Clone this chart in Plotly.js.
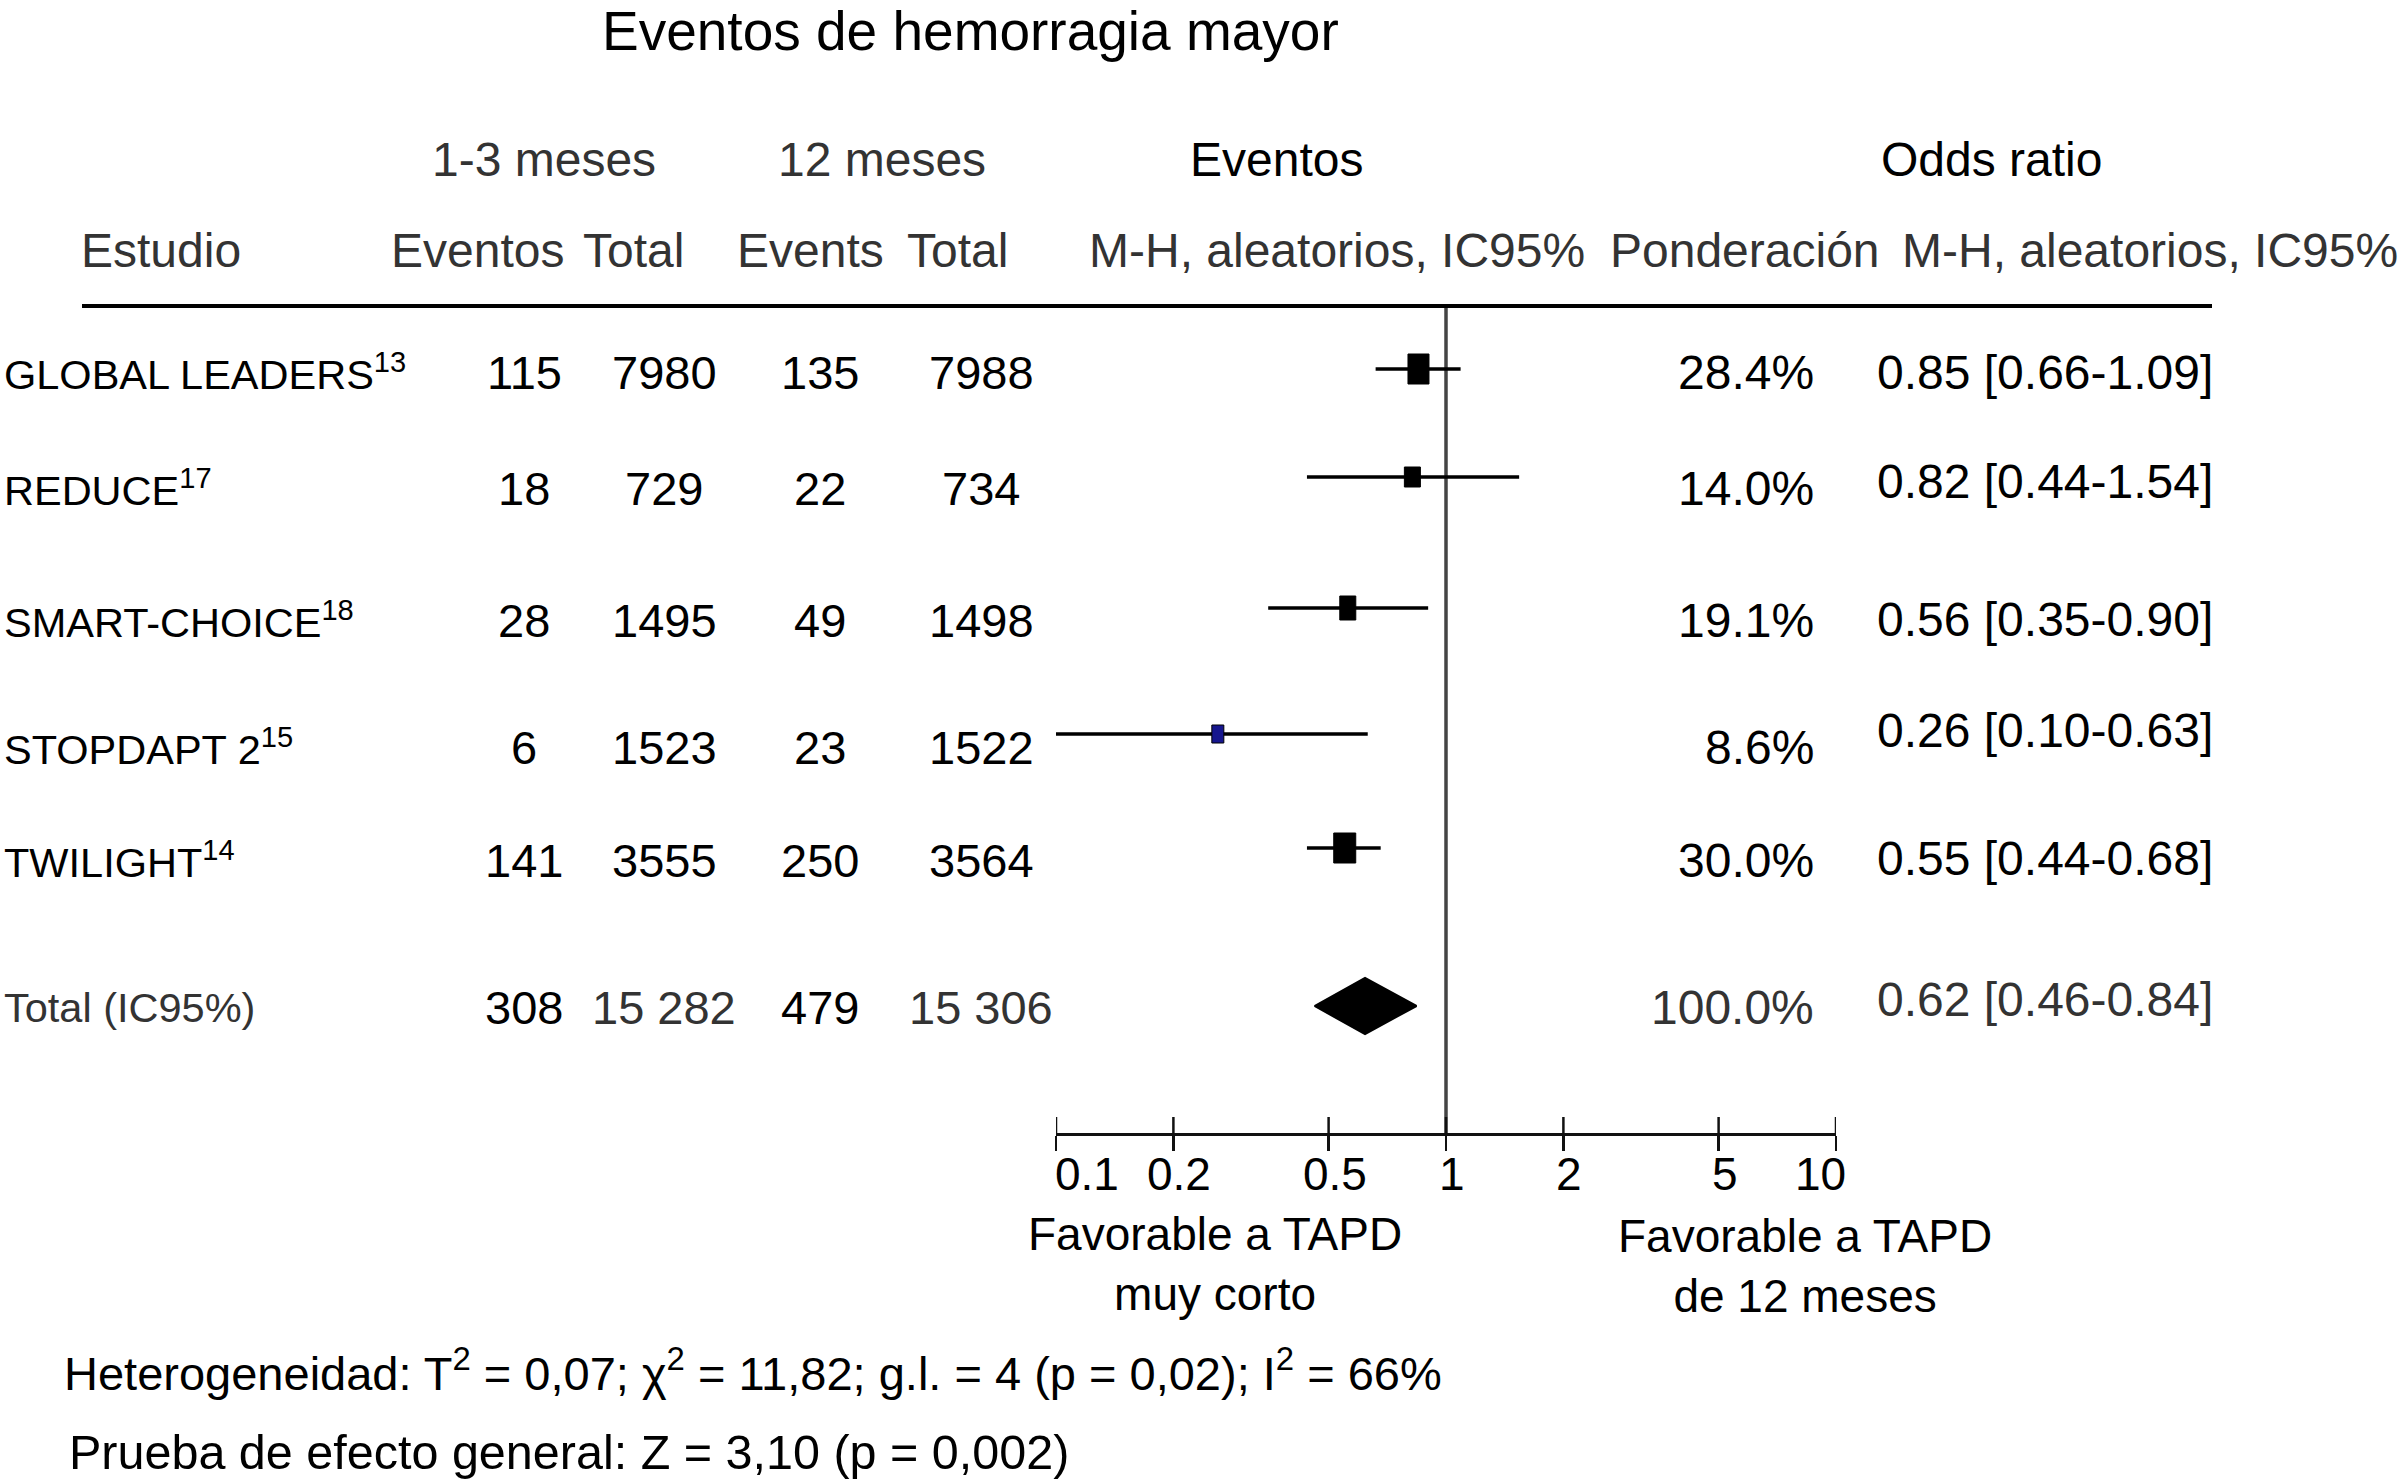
<!DOCTYPE html>
<html>
<head>
<meta charset="utf-8">
<script src="https://cdn.plot.ly/plotly-3.0.1.min.js"></script>
<style>
html,body{margin:0;padding:0;background:#fff;overflow:hidden}
#chart{width:2402px;height:1481px}
</style>
</head>
<body>
<div id="chart"></div>
<script>
// ---------------- DATA ----------------
const studies = ['GLOBAL LEADERS', 'REDUCE', 'SMART-CHOICE', 'STOPDAPT 2', 'TWILIGHT'];
const refs = ['13', '17', '18', '15', '14'];
const shortEvents = [115, 18, 28, 6, 141];
const shortTotal = [7980, 729, 1495, 1523, 3555];
const longEvents = [135, 22, 49, 23, 250];
const longTotal = [7988, 734, 1498, 1522, 3564];
const weights = [28.4, 14.0, 19.1, 8.6, 30.0];
const oddsRatio = [0.85, 0.82, 0.56, 0.26, 0.55];
const ciLow = [0.66, 0.44, 0.35, 0.10, 0.44];
const ciHigh = [1.09, 1.54, 0.90, 0.63, 0.68];

const totalLabel = 'Total (IC95%)';
const totalShortEvents = 308;
const totalShortN = 15282;
const totalLongEvents = 479;
const totalLongN = 15306;
const totalWeight = 100.0;
const totalOR = 0.62;
const totalLow = 0.46;
const totalHigh = 0.84;

const tickVals = [0.1, 0.2, 0.5, 1, 2, 5, 10];
const tickLabels = ['0.1', '0.2', '0.5', '1', '2', '5', '10'];

const titleText = 'Eventos de hemorragia mayor';
const heteroText = 'Heterogeneidad: T<sup>2</sup> = 0,07; χ<sup>2</sup> = 11,82; g.l. = 4 (p = 0,02); I<sup>2</sup> = 66%';
const overallText = 'Prueba de efecto general: Z = 3,10 (p = 0,002)';
const favLeft = 'Favorable a TAPD<br>muy corto';
const favRight = 'Favorable a TAPD<br>de 12 meses';

// ---------------- LAYOUT / STYLE ----------------
const W = 2402, H = 1481;
const FONT = '"Liberation Sans", Arial, Helvetica, sans-serif';
const GRAY = '#333333';
const textY = [372, 488, 620, 747, 860, 1007];
const orY = [372, 481, 619, 730, 858, 999];
const markY = [369, 477, 608, 734, 848, 1006];
const boxW = [21, 16, 16, 12, 22];
const boxH = [30, 20, 24, 18, 30];
const boxFill = ['#000', '#000', '#000', '#16168e', '#000'];
const colX = {label: 2, c1: 524, c2: 664, c3: 820, c4: 981, pct: 1816, or: 1875};
const axisY = 1134, headerLineY = 306;
const axisLeftPx = 1056, axisRightPx = 1836;
const pxPerDecade = (axisRightPx - axisLeftPx) / 2;

function fmtN(n) {
  const s = String(n);
  return n >= 10000 ? s.replace(/\B(?=(\d{3})+(?!\d))/g, ' ') : s;
}
function fmtOR(o, l, h) { return o.toFixed(2) + ' [' + l.toFixed(2) + '-' + h.toFixed(2) + ']'; }

const annotations = [];
function ann(text, xpx, ypx, anchor, size, color) {
  annotations.push({
    xref: 'paper', yref: 'y', x: xpx / W, y: ypx, xanchor: anchor, yanchor: 'middle',
    text: text, showarrow: false, font: {family: FONT, size: size, color: color || '#000'}
  });
}

// Title and headers
ann(titleText, 970, 31, 'center', 55, '#000');
ann('1-3 meses', 544, 159, 'center', 48, GRAY);
ann('12 meses', 882, 159, 'center', 48, GRAY);
ann('Eventos', 1276, 159, 'center', 48, '#000');
ann('Odds ratio', 1991, 159, 'center', 48, '#000');
ann('Estudio', 79, 250, 'left', 48, GRAY);
ann('Eventos', 477, 250, 'center', 48, GRAY);
ann('Total', 633, 250, 'center', 48, GRAY);
ann('Events', 810, 250, 'center', 48, GRAY);
ann('Total', 957, 250, 'center', 48, GRAY);
ann('M-H, aleatorios, IC95%', 1337, 250, 'center', 48, GRAY);
ann('Ponderación', 1745, 250, 'center', 48, GRAY);
ann('M-H, aleatorios, IC95%', 2150, 250, 'center', 48, GRAY);

// Study rows
studies.forEach((s, i) => {
  ann(s + '<sup>' + refs[i] + '</sup>', colX.label, textY[i], 'left', 41.5, '#000');
  ann(fmtN(shortEvents[i]), colX.c1, textY[i], 'center', 47, '#000');
  ann(fmtN(shortTotal[i]), colX.c2, textY[i], 'center', 47, '#000');
  ann(fmtN(longEvents[i]), colX.c3, textY[i], 'center', 47, '#000');
  ann(fmtN(longTotal[i]), colX.c4, textY[i], 'center', 47, '#000');
  ann(weights[i].toFixed(1) + '%', colX.pct, textY[i], 'right', 48, '#000');
  ann(fmtOR(oddsRatio[i], ciLow[i], ciHigh[i]), colX.or, orY[i], 'left', 48, '#000');
});
// Total row
ann(totalLabel, colX.label, textY[5], 'left', 41.5, GRAY);
ann(fmtN(totalShortEvents), colX.c1, textY[5], 'center', 47, '#000');
ann(fmtN(totalShortN), colX.c2, textY[5], 'center', 47, GRAY);
ann(fmtN(totalLongEvents), colX.c3, textY[5], 'center', 47, '#000');
ann(fmtN(totalLongN), colX.c4, textY[5], 'center', 47, GRAY);
ann(totalWeight.toFixed(1) + '%', colX.pct, textY[5], 'right', 48, GRAY);
ann(fmtOR(totalOR, totalLow, totalHigh), colX.or, orY[5], 'left', 48, GRAY);

// Tick labels (on the log axis: annotation x uses log10)
tickVals.forEach((v, i) => {
  const anchor = i === 0 ? 'left' : (i === tickVals.length - 1 ? 'right' : 'center');
  annotations.push({
    xref: 'x', yref: 'y', x: Math.log10(v), y: 1174, xanchor: anchor, yanchor: 'middle',
    xshift: (anchor === 'center' ? 6 : (anchor === 'right' ? 12 : -3)),
    text: tickLabels[i], showarrow: false, font: {family: FONT, size: 46, color: '#000'}
  });
});

// Favourable labels
ann(favLeft, 1215, 1264, 'center', 46, '#000');
ann(favRight, 1805, 1266, 'center', 46, '#000');

// Footer
ann(heteroText, 62, 1370, 'left', 47, '#000');
ann(overallText, 67, 1452, 'left', 48.5, '#000');

// ---------------- SHAPES ----------------
const shapes = [];
// header rule
shapes.push({type: 'line', xref: 'paper', yref: 'y', x0: 82 / W, x1: 2212 / W, y0: headerLineY, y1: headerLineY,
  line: {color: '#000', width: 4}});
// line of no effect
shapes.push({type: 'line', xref: 'x', yref: 'y', x0: 1, x1: 1, y0: headerLineY, y1: axisY,
  line: {color: '#444', width: 3.5}, layer: 'below'});
// upper half of the crossing ticks
tickVals.forEach(v => {
  shapes.push({type: 'line', xref: 'x', yref: 'y', x0: v, x1: v, y0: axisY - 17, y1: axisY,
    line: {color: '#111', width: 2.5}});
});
// study boxes (width given in pixels, converted through the log scale)
oddsRatio.forEach((o, i) => {
  const f = Math.pow(10, (boxW[i] / 2) / pxPerDecade);
  shapes.push({type: 'rect', xref: 'x', yref: 'y',
    x0: o / f, x1: o * f, y0: markY[i] - boxH[i] / 2, y1: markY[i] + boxH[i] / 2,
    fillcolor: boxFill[i], line: {color: '#000', width: 1}});
});

// ---------------- TRACES ----------------
const wx = [], wy = [];
oddsRatio.forEach((o, i) => { wx.push(ciLow[i], ciHigh[i], null); wy.push(markY[i], markY[i], null); });
const whiskers = {
  type: 'scatter', mode: 'lines', x: wx, y: wy, line: {color: '#000', width: 3.5},
  hoverinfo: 'skip', showlegend: false, cliponaxis: false
};
const dH = 28;
const diamond = {
  type: 'scatter', mode: 'lines', fill: 'toself', fillcolor: '#000',
  x: [totalLow, totalOR, totalHigh, totalOR, totalLow],
  y: [markY[5], markY[5] - dH, markY[5], markY[5] + dH, markY[5]],
  line: {color: '#000', width: 2}, hoverinfo: 'skip', showlegend: false, cliponaxis: false
};

const layout = {
  width: W, height: H,
  margin: {l: 0, r: 0, t: 0, b: 0, pad: 0},
  paper_bgcolor: '#fff', plot_bgcolor: 'rgba(0,0,0,0)',
  showlegend: false, hovermode: false,
  xaxis: {
    type: 'log', range: [-1, 1], domain: [axisLeftPx / W, axisRightPx / W],
    anchor: 'free', position: (H - axisY) / H,
    showline: true, linecolor: '#111', linewidth: 3,
    ticks: 'outside', ticklen: 15, tickwidth: 2.5, tickcolor: '#111',
    tickmode: 'array', tickvals: tickVals, showticklabels: false,
    showgrid: false, zeroline: false, fixedrange: true
  },
  yaxis: {range: [H, 0], domain: [0, 1], visible: false, fixedrange: true},
  shapes: shapes,
  annotations: annotations,
  font: {family: FONT}
};

Plotly.newPlot('chart', [whiskers, diamond], layout, {displayModeBar: false, staticPlot: true});
</script>
</body>
</html>
